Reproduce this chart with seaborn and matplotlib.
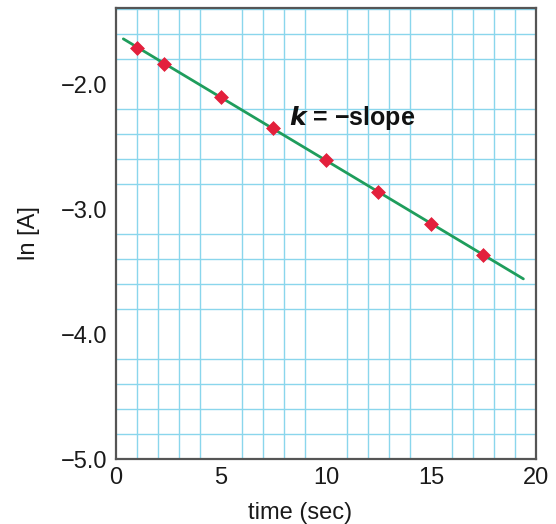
import numpy as np
import pandas as pd
import matplotlib.pyplot as plt
import matplotlib.ticker as ticker
import seaborn as sns

# data
time_sec = [1.0, 2.3, 5.0, 7.5, 10.0, 12.5, 15.0, 17.5]
ln_A = [-1.71, -1.84, -2.10, -2.35, -2.61, -2.86, -3.12, -3.37]
fit_range = [0.35, 19.4]

x_ticks = [0, 5, 10, 15, 20]
y_ticks = [-5.0, -4.0, -3.0, -2.0]

sns.set_style("white")
plt.rcParams['font.family'] = ['Liberation Sans', 'DejaVu Sans']

slope, icpt = np.polyfit(time_sec, ln_A, 1)
fit = pd.DataFrame({'t': fit_range, 'y': [slope * t + icpt for t in fit_range]})
pts = pd.DataFrame({'t': time_sec, 'y': ln_A})

fig = plt.figure(figsize=(5.56, 5.24), dpi=100)
ax = fig.add_axes([0.2086, 0.124, 0.7554, 0.861])

ax.set_xlim(0, 20)
ax.set_ylim(-5.0, -1.39)
ax.xaxis.set_minor_locator(ticker.MultipleLocator(1))
ax.yaxis.set_minor_locator(ticker.MultipleLocator(0.2))
ax.grid(which='minor', color='#8ad6ec', linewidth=1.0)
ax.set_axisbelow(True)

sns.lineplot(data=fit, x='t', y='y', ax=ax, color='#1f9d5c', linewidth=2.0, zorder=3)
sns.scatterplot(data=pts, x='t', y='y', ax=ax, marker='D', s=50, color='#e3203c',
                edgecolor='#e3203c', linewidth=0.5, zorder=4)

ax.set_xticks(x_ticks)
ax.set_yticks(y_ticks)
ax.set_yticklabels([f"\u2212{abs(v):.1f}" for v in y_ticks])
ax.tick_params(which='major', direction='in', length=12, width=1.3, color='#555555',
               labelsize=17, pad=6, labelcolor='#1a1a1a')
ax.tick_params(which='minor', length=0)
for s in ax.spines.values():
    s.set_color('#555555')
    s.set_linewidth(1.6)

ax.set_xlabel('time (sec)', fontsize=17, color='#1a1a1a')
ax.set_ylabel('ln [A]', fontsize=17, color='#1a1a1a')
ax.xaxis.set_label_coords(0.438, -0.095)
ax.yaxis.set_label_coords(-0.18, 0.5)

ax.text(8.25, -2.27, r'$\boldsymbol{k}$ = ' + '\u2212slope',
        fontsize=18, fontweight='bold', va='center', ha='left', color='#111111')

fig.savefig('out.png', dpi=100)
